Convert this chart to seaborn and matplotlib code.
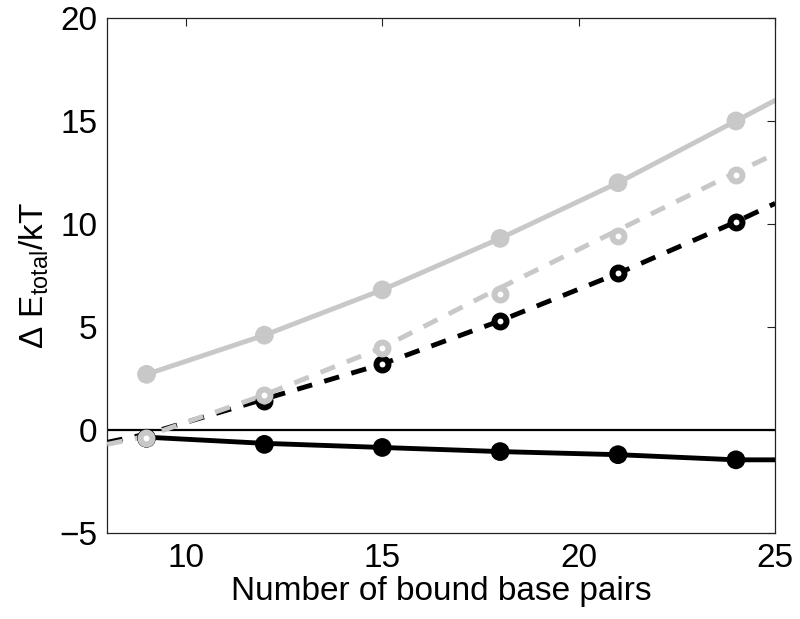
import matplotlib
matplotlib.use("Agg")
import matplotlib.pyplot as plt
import seaborn as sns
import pandas as pd

# ---- data ----
marker_x = [9, 12, 15, 18, 21, 24]
gray_solid_pts = [2.7, 4.6, 6.8, 9.3, 12.0, 15.0]
gray_dashed_pts = [-0.4, 1.7, 4.0, 6.6, 9.4, 12.4]
black_dashed_pts = [-0.4, 1.4, 3.2, 5.3, 7.6, 10.1]
black_solid_pts = [-0.4, -0.7, -0.85, -1.05, -1.2, -1.45]

solid_curve_x = [9, 12, 15, 18, 21, 24, 25]
gray_solid_curve = [2.7, 4.6, 6.8, 9.3, 12.0, 15.0, 16.0]
black_solid_curve = [-0.35, -0.65, -0.85, -1.05, -1.2, -1.45, -1.45]

dashed_curve_x = [8, 9, 12, 15, 18, 21, 24, 25]
gray_dashed_curve = [-0.7, -0.3, 1.7, 4.0, 6.9, 9.7, 12.5, 13.4]
black_dashed_curve = [-0.6, -0.2, 1.5, 3.2, 5.3, 7.6, 10.1, 11.0]

x_ticks = [10, 15, 20, 25]
y_ticks = [-5, 0, 5, 10, 15, 20]
x_label = "Number of bound base pairs"
y_label = r"Δ E$_{\mathregular{total}}$/kT"

# ---- style ----
sns.set_style("white")
fam = "Liberation Sans"
plt.rcParams["font.family"] = [fam, "DejaVu Sans"]
plt.rcParams["mathtext.fontset"] = "custom"
plt.rcParams["mathtext.rm"] = fam
plt.rcParams["text.color"] = "black"
plt.rcParams["axes.labelcolor"] = "black"
plt.rcParams["xtick.color"] = "black"
plt.rcParams["ytick.color"] = "black"

GRAY = "#c8c8c8"
BLACK = "#000000"
LW = 3.5
FS = 24

fig = plt.figure(figsize=(8, 6.19), dpi=100)
ax = fig.add_axes([0.134, 0.139, 0.835, 0.832])

ax.axhline(0, color="black", lw=1.6, zorder=1)

def curve(x, y, color, dashed, z):
    df = pd.DataFrame({"x": x, "y": y})
    sns.lineplot(data=df, x="x", y="y", ax=ax, color=color, lw=LW,
                 linestyle="--" if dashed else "-",
                 dashes=False, zorder=z)
    line = ax.lines[-1]
    if dashed:
        line.set_dashes((3.2, 2.6))
        line.set_dash_capstyle("butt")

def pts(y, color, filled, z):
    df = pd.DataFrame({"x": marker_x, "y": y})
    if filled:
        sns.scatterplot(data=df, x="x", y="y", ax=ax, s=13.5 ** 2,
                        color=color, edgecolor="none", linewidth=0, zorder=z)
    else:
        sns.scatterplot(data=df, x="x", y="y", ax=ax, s=8.6 ** 2,
                        facecolor="white", edgecolor=color, linewidth=4.3, zorder=z)

curve(solid_curve_x, gray_solid_curve, GRAY, False, 2)
pts(gray_solid_pts, GRAY, True, 3)
curve(dashed_curve_x, black_dashed_curve, BLACK, True, 4)
curve(dashed_curve_x, gray_dashed_curve, GRAY, True, 5)
curve(solid_curve_x, black_solid_curve, BLACK, False, 6)
pts(black_solid_pts, BLACK, True, 7)
pts(black_dashed_pts, BLACK, False, 8)
pts(gray_dashed_pts, GRAY, False, 9)

ax.set_xlim(8, 25)
ax.set_ylim(-5, 20)
ax.set_xticks(x_ticks)
ax.set_yticks(y_ticks)
ax.set_xlabel(x_label, fontsize=FS, labelpad=2)
ax.set_ylabel(y_label, fontsize=FS, labelpad=6)
ax.tick_params(direction="in", length=6, width=0.8, labelsize=FS,
               top=True, right=True, pad=7, color="#222222")
for s in ax.spines.values():
    s.set_visible(True)
    s.set_color("#222222")
    s.set_linewidth(0.9)

fig.savefig("out.png", dpi=100)
